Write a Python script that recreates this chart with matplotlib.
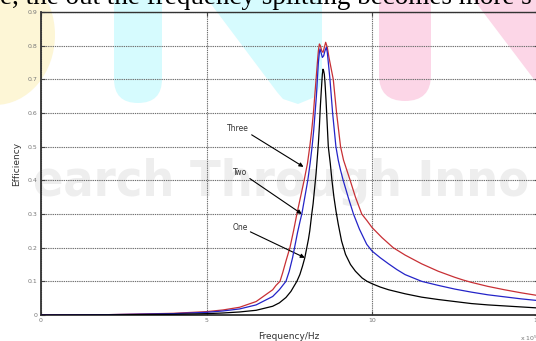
import matplotlib
matplotlib.use("Agg")
import matplotlib.pyplot as plt
from matplotlib.patches import Ellipse, Polygon, FancyBboxPatch

# ---------------- data ----------------
freq_one = [0, 2, 4, 5, 5.5, 6, 6.5, 7, 7.2, 7.4, 7.55, 7.73, 7.82, 7.9, 7.97, 8.03,
            8.08, 8.12, 8.18, 8.22, 8.26, 8.31, 8.35, 8.38, 8.41, 8.44, 8.47, 8.50,
            8.52, 8.54, 8.56, 8.58, 8.61, 8.63, 8.66, 8.68, 8.74, 8.79, 8.85, 8.91,
            8.98, 9.08, 9.2, 9.35, 9.5, 9.7, 9.85, 10, 10.25, 10.5, 11, 11.5, 12,
            12.5, 13, 13.5, 14, 14.5, 15]
eff_one = [0, 0.0005, 0.002, 0.004, 0.006, 0.009, 0.014, 0.026, 0.036, 0.052, 0.07,
           0.10, 0.12, 0.145, 0.17, 0.20, 0.225, 0.25, 0.30, 0.33, 0.37, 0.42, 0.47,
           0.51, 0.56, 0.62, 0.67, 0.715, 0.73, 0.725, 0.715, 0.69, 0.64, 0.60, 0.54,
           0.50, 0.45, 0.40, 0.35, 0.31, 0.27, 0.22, 0.18, 0.15, 0.13, 0.11, 0.10,
           0.093, 0.083, 0.075, 0.063, 0.053, 0.046, 0.040, 0.034, 0.030, 0.027,
           0.024, 0.021]

freq_two = [0, 2, 4, 5, 5.5, 6, 6.5, 7, 7.2, 7.4, 7.5, 7.6, 7.66, 7.75, 7.83, 7.88,
            7.97, 8.06, 8.13, 8.19, 8.24, 8.28, 8.32, 8.35, 8.38, 8.41, 8.43, 8.46,
            8.50, 8.54, 8.58, 8.62, 8.65, 8.69, 8.73, 8.77, 8.81, 8.86, 8.91, 8.98,
            9.05, 9.13, 9.28, 9.44, 9.62, 9.84, 10, 10.25, 10.5, 10.75, 11, 11.5, 12,
            12.5, 13, 13.5, 14, 14.5, 15]
eff_two = [0, 0.001, 0.004, 0.008, 0.012, 0.018, 0.030, 0.055, 0.075, 0.10, 0.13,
           0.17, 0.20, 0.245, 0.28, 0.30, 0.35, 0.40, 0.45, 0.50, 0.55, 0.60, 0.65,
           0.70, 0.75, 0.78, 0.79, 0.78, 0.765, 0.77, 0.785, 0.795, 0.78, 0.74, 0.70,
           0.65, 0.60, 0.55, 0.50, 0.46, 0.43, 0.40, 0.35, 0.30, 0.255, 0.21, 0.19,
           0.17, 0.152, 0.135, 0.12, 0.10, 0.088, 0.077, 0.068, 0.060, 0.054, 0.048,
           0.043]

freq_three = [0, 2, 4, 5, 5.5, 6, 6.5, 7, 7.1, 7.22, 7.3, 7.4, 7.52, 7.63, 7.73, 7.84,
              7.95, 8.05, 8.12, 8.18, 8.23, 8.27, 8.31, 8.35, 8.38, 8.41, 8.44, 8.48,
              8.52, 8.56, 8.60, 8.65, 8.70, 8.76, 8.83, 8.88, 8.93, 8.99, 9.05, 9.14,
              9.24, 9.34, 9.5, 9.69, 9.85, 10, 10.3, 10.64, 11, 11.5, 12, 12.5, 12.75,
              13, 13.5, 14, 14.5, 15]
eff_three = [0, 0.001, 0.005, 0.010, 0.015, 0.023, 0.040, 0.075, 0.088, 0.10, 0.125,
             0.16, 0.20, 0.25, 0.30, 0.35, 0.40, 0.45, 0.50, 0.55, 0.60, 0.65, 0.70,
             0.75, 0.785, 0.805, 0.80, 0.785, 0.78, 0.795, 0.81, 0.795, 0.765, 0.735,
             0.70, 0.65, 0.60, 0.55, 0.50, 0.46, 0.43, 0.40, 0.35, 0.30, 0.28, 0.26,
             0.23, 0.20, 0.178, 0.152, 0.13, 0.112, 0.104, 0.097, 0.085, 0.075, 0.066,
             0.058]

labels = ["One", "Two", "Three"]
x_ticks = [0, 5, 10, 15]
x_tick_labels = ["0", "5", "10", "15"]
y_ticks = [0, 0.1, 0.2, 0.3, 0.4, 0.5, 0.6, 0.7, 0.8, 0.9]
y_tick_labels = ["0", "0.1", "0.2", "0.3", "0.4", "0.5", "0.6", "0.7", "0.8", "0.9"]

# ---------------- figure ----------------
W, H = 536, 341
fig = plt.figure(figsize=(W / 100, H / 100), dpi=100)
fig.patch.set_facecolor("white")

# watermark layer (pixel coordinates, y downward)
bg = fig.add_axes([0, 0, 1, 1], zorder=0)
bg.set_xlim(0, W)
bg.set_ylim(H, 0)
bg.axis("off")
yellow = "#fdf6d6"
cyan = "#d6fbfe"
pink = "#fcd6e7"
bg.add_patch(Ellipse((-5, 35), 120, 140, color=yellow, lw=0))
bg.add_patch(FancyBboxPatch((114, -40), 48, 143, boxstyle="round,pad=0,rounding_size=24",
                            color=cyan, lw=0))
bg.add_patch(Polygon([(208, 0), (322, 0), (322, 82), (315, 97), (298, 104), (283, 99),
                      (277, 92)], closed=True, color=cyan, lw=0))
bg.add_patch(FancyBboxPatch((379, -40), 52, 141, boxstyle="round,pad=0,rounding_size=26",
                            color=pink, lw=0))
bg.add_patch(Polygon([(474, 0), (536, 0), (536, 82)], closed=True, color=pink, lw=0))
bg.text(33, 196, "earch Through Inno", fontsize=36, fontweight="bold",
        fontstretch="condensed", color="#eeeeee", family="DejaVu Sans",
        va="baseline", ha="left")

# partial document text at the top
fig.text(0.0, 1 - 4.5 / H, "e, the out the frequency splitting becomes more s",
         fontsize=19.5, family="Liberation Serif", va="baseline", ha="left", color="black")

# main axes
left, right, top, bottom = 41, 537.5, 12, 315
ax = fig.add_axes([left / W, 1 - bottom / H, (right - left) / W, (bottom - top) / H],
                  zorder=1)
ax.patch.set_alpha(0)

ax.plot(freq_three, eff_three, color="#c83035", lw=0.9, zorder=3)
ax.plot(freq_two, eff_two, color="#2424c8", lw=0.9, zorder=4)
ax.plot(freq_one, eff_one, color="black", lw=0.9, zorder=5)

ax.set_xlim(0, 15)
ax.set_ylim(0, 0.9)
ax.set_xticks(x_ticks)
ax.set_xticklabels(x_tick_labels)
ax.set_yticks(y_ticks)
ax.set_yticklabels(y_tick_labels)
ax.grid(True, color="#707070", lw=0.8, linestyle=(0, (1.2, 0.8)))
ax.set_axisbelow(True)
ax.tick_params(direction="in", length=3, width=0.8, labelsize=4.5, labelcolor="#777777",
               color="#444444", top=True, right=True, pad=2.5)
for s in ax.spines.values():
    s.set_color("#333333")
    s.set_linewidth(1.0)
ax.spines["left"].set_linewidth(1.3)
ax.spines["bottom"].set_linewidth(1.3)

ax.set_xlabel("Frequency/Hz", fontsize=6.5, color="#333333", labelpad=6)
ax.set_ylabel("Efficiency", fontsize=6.5, color="#333333", labelpad=5)

arrow = dict(arrowstyle="-|>", color="black", lw=0.8, mutation_scale=6,
             shrinkA=0, shrinkB=0)
ax.annotate(labels[2], xy=(7.93, 0.44), xytext=(5.95, 0.553), fontsize=5.5,
            color="#333333", ha="center", va="center",
            arrowprops=dict(arrow, relpos=(0.95, 0.1)))
ax.annotate(labels[1], xy=(7.88, 0.30), xytext=(6.01, 0.423), fontsize=5.5,
            color="#333333", ha="center", va="center",
            arrowprops=dict(arrow, relpos=(0.95, 0.1)))
ax.annotate(labels[0], xy=(7.97, 0.17), xytext=(6.01, 0.26), fontsize=5.5,
            color="#333333", ha="center", va="center",
            arrowprops=dict(arrow, relpos=(0.95, 0.2)))

fig.text(520 / W, 1 - 338 / H, "x 10$^{5}$", fontsize=4.5, color="#777777",
         va="center", ha="left")

fig.savefig("out.png", dpi=100)
